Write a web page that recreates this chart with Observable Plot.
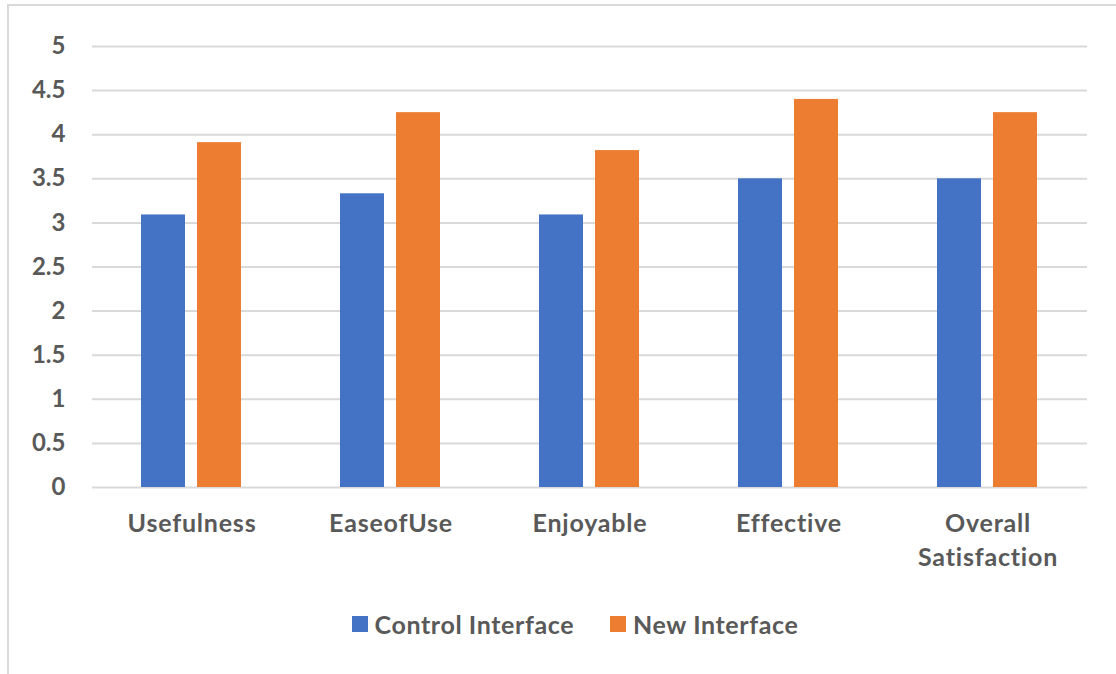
<!DOCTYPE html>
<html>
<head>
<meta charset="utf-8">
<script src="https://cdn.jsdelivr.net/npm/d3@7"></script>
<script src="https://cdn.jsdelivr.net/npm/@observablehq/plot@0.6"></script>
<style>
  html, body { margin: 0; padding: 0; background: #fff; }
  #wrap { position: relative; width: 1116px; height: 674px; overflow: hidden; font-family: Lato, "Open Sans", sans-serif; }
  #frame { position: absolute; left: 7px; top: 4px; width: 1200px; height: 800px; border-top: 2px solid #d9d9d9; border-left: 2px solid #d9d9d9; box-sizing: border-box; }
  #chart { position: absolute; left: 0; top: 0; }
  #chart g[aria-label="fx-axis tick label"] text { letter-spacing: 0.8px; }
  #legend { position: absolute; top: 609px; left: 17px; width: 1116px; display: flex; justify-content: center; gap: 36px; font-size: 25px; font-weight: 700; color: #595959; letter-spacing: 0.6px; }
  .item { display: flex; align-items: center; gap: 7px; }
  .sw { width: 16px; height: 16px; display: inline-block; }
</style>
</head>
<body>
<div id="wrap">
  <div id="frame"></div>
  <div id="chart"></div>
  <div id="legend"></div>
</div>
<script>
// Survey ratings (1–5 scale) for two interfaces
const categories = ["Usefulness", "EaseofUse", "Enjoyable", "Effective", "Overall Satisfaction"];
const categoryLabels = ["Usefulness", "EaseofUse", "Enjoyable", "Effective", "Overall\nSatisfaction"];
const seriesNames = ["Control Interface", "New Interface"];
const controlValues = [3.09, 3.33, 3.09, 3.5, 3.5];
const newValues = [3.91, 4.25, 3.82, 4.4, 4.25];
const yTicks = [0, 0.5, 1, 1.5, 2, 2.5, 3, 3.5, 4, 4.5, 5];
const colors = ["#4472C4", "#ED7D31"];

const rows = categories.flatMap((c, i) => [
  {category: c, series: seriesNames[0], value: controlValues[i]},
  {category: c, series: seriesNames[1], value: newValues[i]}
]);
const labelOf = new Map(categories.map((c, i) => [c, categoryLabels[i]]));

const textColor = "#595959";

const chart = Plot.plot({
  width: 1116,
  height: 590,
  marginLeft: 92,
  marginRight: 29,
  marginTop: 46,
  marginBottom: 103,
  style: {fontFamily: "Lato, 'Open Sans', sans-serif", color: textColor, background: "transparent"},
  fx: {domain: categories, padding: 0, label: null},
  x: {domain: seriesNames, paddingInner: 0.212, paddingOuter: 0.867, axis: null},
  y: {domain: [0, 5], label: null},
  color: {domain: seriesNames, range: colors},
  marks: [
    Plot.ruleY(yTicks, {stroke: "#d9d9d9", strokeWidth: 2}),
    Plot.barY(rows, {fx: "category", x: "series", y: "value", fill: "series"}),
    Plot.axisY(yTicks, {
      tickSize: 0, tickPadding: 27, fontSize: 24, fontWeight: 700, fill: textColor,
      tickFormat: d => String(d), label: null
    }),
    Plot.axisFx({
      anchor: "bottom",
      tickSize: 0, tickPadding: 20, fontSize: 25, fontWeight: 700, fill: textColor,
      lineHeight: 1.36, tickFormat: d => labelOf.get(d), label: null
    })
  ]
});
document.getElementById("chart").appendChild(chart);

// Legend below the plot
const legend = document.getElementById("legend");
seriesNames.forEach((name, i) => {
  const item = document.createElement("div");
  item.className = "item";
  const sw = document.createElement("span");
  sw.className = "sw";
  sw.style.background = colors[i];
  const t = document.createElement("span");
  t.textContent = name;
  item.appendChild(sw);
  item.appendChild(t);
  legend.appendChild(item);
});
</script>
</body>
</html>
